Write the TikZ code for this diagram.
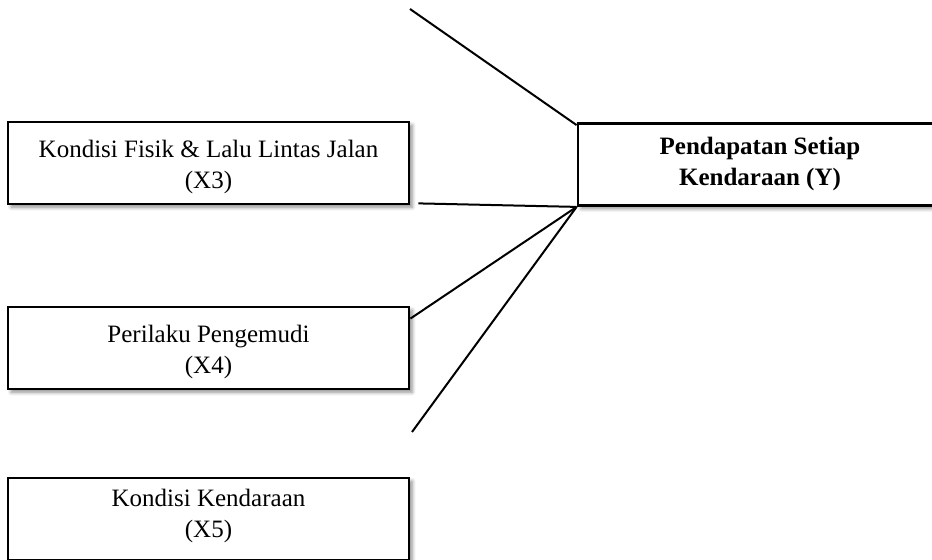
\documentclass[tikz,border=0pt]{standalone}
\usepackage{fontspec}
\setmainfont{Liberation Serif}
\usetikzlibrary{shadows.blur}
\begin{document}
\begin{tikzpicture}[x=0.5pt,y=-0.5pt,
  varbox/.style={draw,line width=1.4pt,fill=white,minimum width=200.5pt,minimum height=41pt,
    blur shadow={shadow xshift=1.6pt,shadow yshift=-1.6pt,shadow blur steps=6,shadow opacity=45}},
  vartext/.style={align=center,font=\fontsize{12.5}{15.5}\selectfont},
  link/.style={line width=1pt}]
\useasboundingbox (0,0) rectangle (932,560);
\clip (0,0) rectangle (932,560);
\node[varbox] (x3) at (208.5,163) {};
\node[vartext] (x3t) at (208.5,166.5) {Kondisi Fisik \& Lalu Lintas Jalan\\(X3)};
\node[varbox] (x4) at (208.5,348) {};
\node[vartext] (x4t) at (208.5,352) {Perilaku Pengemudi\\(X4)};
\node[varbox] (x5) at (208.5,519) {};
\node[vartext] (x5t) at (208.5,515.5) {Kondisi Kendaraan\\(X5)};
\node[varbox,minimum width=182pt] (y) at (760,164.5) {};
\node[vartext,font=\fontsize{12.5}{15.5}\selectfont\bfseries] (yt) at (760,164) {Pendapatan Setiap\\Kendaraan (Y)};
\coordinate (top) at (410,9);
\coordinate (low) at (412,432);
\draw[link] (top) -- ([yshift=-1.5pt]y.north west);
\draw[link] ([xshift=4pt,yshift=1pt]x3.south east) -- (y.south west);
\draw[link] ([yshift=-6.5pt]x4.north east) -- (y.south west);
\draw[link] (low) -- (y.south west);
\end{tikzpicture}
\end{document}
